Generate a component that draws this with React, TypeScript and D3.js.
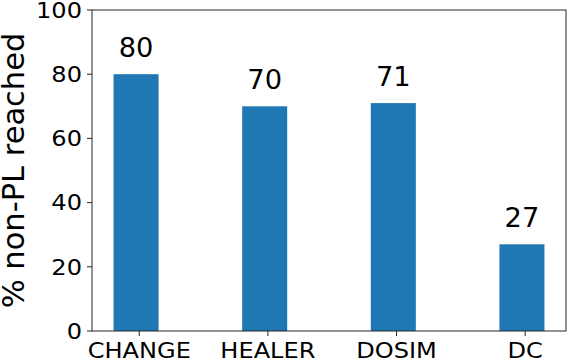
import React from "react";
import * as d3 from "d3";

const categories = ["CHANGE", "HEALER", "DOSIM", "DC"];
const values = [80, 70, 71, 27];
const yTicks = [0, 20, 40, 60, 80, 100];

const W = 568;
const H = 362;
const M = { left: 92, right: 566, top: 10, bottom: 331 };
const FONT = "'DejaVu Sans', sans-serif";
// the picture's text is a little wider than it is tall
const SX = 1.12;

export default function App() {
  // bars sit slightly left of their tick (offset -0.025, width 0.35)
  const x = d3.scaleLinear().domain([-0.3675, 3.3175]).range([M.left, M.right]);
  const y = d3.scaleLinear().domain([0, 100]).range([M.bottom, M.top]);
  const axisColor = "#262626";

  return (
    <svg
      width={W}
      height={H}
      style={{ position: "absolute", left: 0, top: 0, background: "#fff" }}
      fontFamily={FONT}
    >
      {/* bars */}
      {values.map((v, i) => (
        <rect
          key={categories[i]}
          x={x(i - 0.2)}
          y={y(v)}
          width={x(i + 0.15) - x(i - 0.2)}
          height={y(0) - y(v)}
          fill="#1f77b4"
        />
      ))}

      {/* value labels */}
      {values.map((v, i) => (
        <text
          key={"v" + i}
          transform={`translate(${x(i - 0.025)},${y(v) - 17}) scale(1.05,1)`}
          textAnchor="middle"
          fontSize={26}
          fill="#000"
        >
          {v}
        </text>
      ))}

      {/* frame */}
      <rect
        x={M.left}
        y={M.top}
        width={M.right - M.left}
        height={M.bottom - M.top}
        fill="none"
        stroke={axisColor}
        strokeWidth={1}
      />

      {/* y ticks */}
      {yTicks.map((t) => (
        <g key={"y" + t}>
          <line x1={M.left - 5} x2={M.left} y1={y(t)} y2={y(t)} stroke={axisColor} />
          <text
            transform={`translate(${M.left - 10},${y(t)}) scale(${SX},1)`}
            dy="0.36em"
            textAnchor="end"
            fontSize={21.5}
            fill="#000"
          >
            {t}
          </text>
        </g>
      ))}

      {/* x ticks */}
      {categories.map((c, i) => (
        <g key={"x" + c}>
          <line x1={x(i)} x2={x(i)} y1={M.bottom} y2={M.bottom + 5} stroke={axisColor} />
          <text
            transform={`translate(${x(i)},358) scale(${SX},1)`}
            textAnchor="middle"
            fontSize={21.5}
            fill="#000"
          >
            {c}
          </text>
        </g>
      ))}

      {/* y label */}
      <text
        transform={`translate(24,${(M.top + M.bottom) / 2}) rotate(-90)`}
        textAnchor="middle"
        fontSize={30.5}
        fill="#000"
      >
        % non-PL reached
      </text>
    </svg>
  );
}
